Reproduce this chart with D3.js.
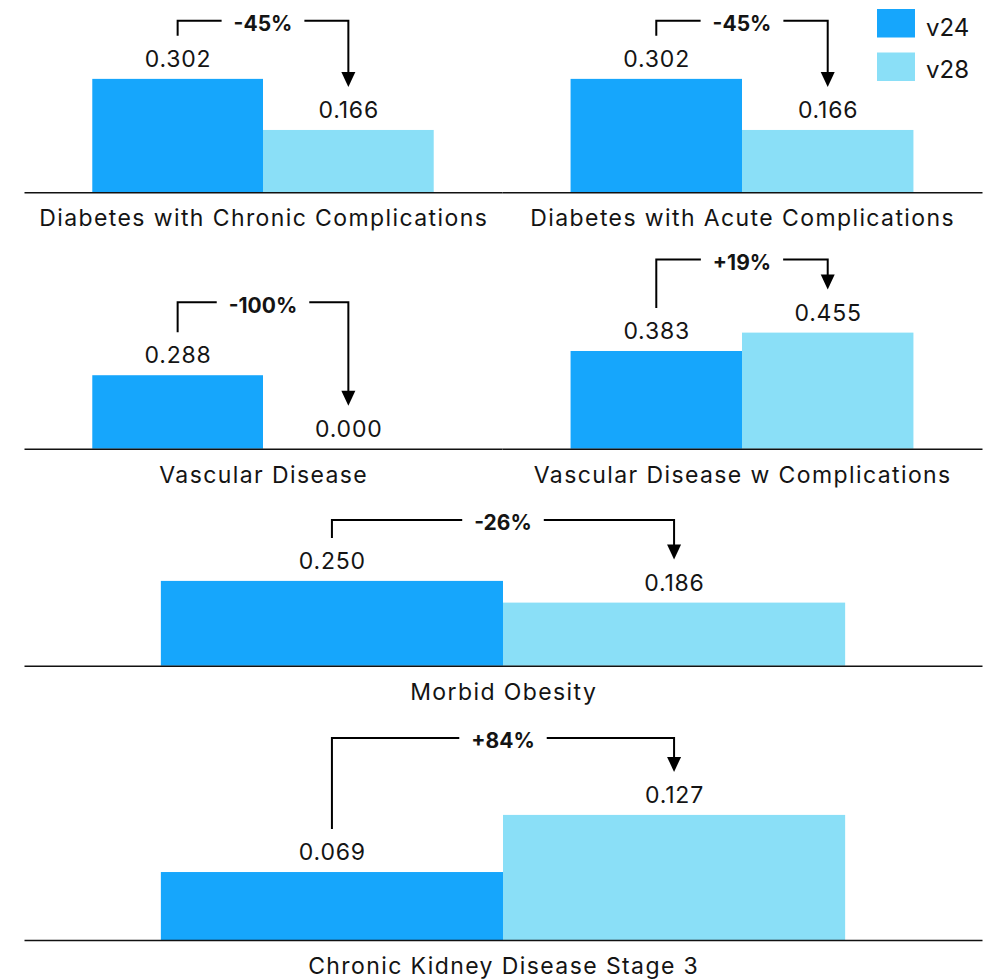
<!DOCTYPE html>
<html>
<head>
<meta charset="utf-8">
<script src="https://cdn.jsdelivr.net/npm/d3@7"></script>
<style>
  html, body { margin: 0; padding: 0; background: #fff; }
  svg { display: block; }
  text { font-family: Inter, "Noto Sans", sans-serif; fill: #141414; }
</style>
</head>
<body>
<svg id="chart" width="983" height="980"></svg>
<script>
// ---- data ----
const categories = [
  "Diabetes with Chronic Complications",
  "Diabetes with Acute Complications",
  "Vascular Disease",
  "Vascular Disease w Complications",
  "Morbid Obesity",
  "Chronic Kidney Disease Stage 3"
];
const seriesNames = ["v24", "v28"];
const v24Values = [0.302, 0.302, 0.288, 0.383, 0.250, 0.069];
const v28Values = [0.166, 0.166, 0.000, 0.455, 0.186, 0.127];

// ---- layout (positions only) ----
const layout = [
  { x0: 24,  x1: 502, base: 192.3, top: 0,   yMax: 0.512,  lift: 58 },
  { x0: 502, x1: 982, base: 192.3, top: 0,   yMax: 0.512,  lift: 58 },
  { x0: 24,  x1: 502, base: 448.7, top: 240, yMax: 0.818,  lift: 73 },
  { x0: 502, x1: 982, base: 448.7, top: 240, yMax: 0.818,  lift: 73 },
  { x0: 24,  x1: 982, base: 665.7, top: 490, yMax: 0.518,  lift: 61 },
  { x0: 24,  x1: 982, base: 940,   top: 710, yMax: 0.2335, lift: 77 }
];
const colors = { v24: "#16a6fc", v28: "#8adff7" };

const svg = d3.select("#chart");
const fmt = d3.format(".3f");
const pct = d => (d >= 0 ? "+" : "-") + Math.round(Math.abs(d) * 100) + "%";

categories.forEach((cat, i) => {
  const L = layout[i];
  const vals = [v24Values[i], v28Values[i]];
  const x = d3.scaleBand().domain(seriesNames).range([L.x0, L.x1]).paddingInner(0).paddingOuter(0.4);
  const y = d3.scaleLinear().domain([0, L.yMax]).range([L.base, L.top]);
  const g = svg.append("g");

  // bars
  g.selectAll("rect.bar").data(seriesNames).join("rect")
    .attr("class", "bar")
    .attr("x", s => x(s))
    .attr("width", x.bandwidth())
    .attr("y", (s, j) => y(vals[j]))
    .attr("height", (s, j) => y(0) - y(vals[j]))
    .attr("fill", s => colors[s]);

  // axis line
  const ax = g.append("g").attr("transform", `translate(0,${y(0)})`)
    .call(d3.axisBottom(x).tickSize(0).tickSizeOuter(0).tickFormat(""));
  ax.select(".domain").attr("stroke", "#111").attr("stroke-width", 1.6);
  ax.selectAll(".tick").remove();

  // value labels
  g.selectAll("text.val").data(seriesNames).join("text")
    .attr("class", "val")
    .attr("x", s => x(s) + x.bandwidth() / 2 + 0.4)
    .attr("y", (s, j) => y(vals[j]) - 12)
    .attr("text-anchor", "middle")
    .attr("font-size", 23)
    .attr("letter-spacing", 0.8)
    .text((s, j) => fmt(vals[j]));

  // category label
  g.append("text")
    .attr("x", (L.x0 + L.x1) / 2 + 0.7)
    .attr("y", y(0) + 34)
    .attr("text-anchor", "middle")
    .attr("font-size", 23)
    .attr("letter-spacing", 1.4)
    .text(cat);

  // bracket annotation
  const c1 = x("v24") + x.bandwidth() / 2;
  const c2 = x("v28") + x.bandwidth() / 2;
  const yB = Math.min(y(vals[0]), y(vals[1])) - L.lift;
  const legL = y(vals[0]) - 43;
  const tip = y(vals[1]) - 43;
  const cx = (c1 + c2) / 2;
  const change = (vals[1] - vals[0]) / vals[0];
  const t = g.append("text")
    .attr("x", cx).attr("y", yB + 10.5)
    .attr("text-anchor", "middle")
    .attr("font-size", 21).attr("font-weight", 700)
    .text(pct(change));
  const tw = t.node().getComputedTextLength();
  const gap = 12;
  g.append("path")
    .attr("d", `M${c1},${legL}V${yB}H${cx - tw / 2 - gap}M${cx + tw / 2 + gap},${yB}H${c2}V${tip - 14}`)
    .attr("fill", "none").attr("stroke", "#000").attr("stroke-width", 2);
  g.append("path")
    .attr("d", `M${c2 - 7},${tip - 15}L${c2 + 7},${tip - 15}L${c2},${tip}Z`)
    .attr("fill", "#000");
});

// legend
const lg = svg.append("g");
seriesNames.forEach((s, j) => {
  lg.append("rect").attr("x", 877).attr("y", 9 + j * 43.5).attr("width", 38).attr("height", 28.5).attr("fill", colors[s]);
  lg.append("text").attr("x", 926).attr("y", 36 + j * 42).attr("font-size", 24).text(s);
});
</script>
</body>
</html>
